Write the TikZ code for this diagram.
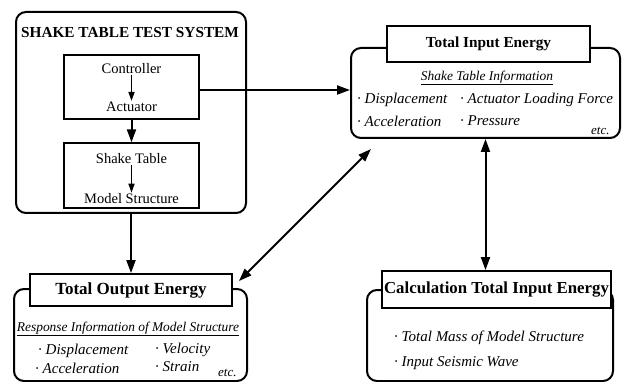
\documentclass[tikz,border=0pt]{standalone}
\usepackage{fontspec}
\setmainfont{Liberation Serif}
\usetikzlibrary{arrows.meta}
\begin{document}
\begin{tikzpicture}[x=1pt,y=-1pt,
  outer/.style={draw, line width=2pt, rounded corners=10pt, inner sep=0pt},
  tbox/.style={draw, line width=1.8pt, fill=white, inner sep=0pt},
  ibox/.style={draw, line width=1.3pt, inner sep=0pt},
  arr/.style={line width=2pt, -{Triangle[length=13pt,width=9pt]}},
  darr/.style={line width=2pt, {Triangle[length=13pt,width=9pt]}-{Triangle[length=13pt,width=9pt]}},
  sarr/.style={line width=1.5pt, -{Triangle[length=9pt,width=6pt]}},
  lbl/.style={font=\fontsize{14.5}{17}\selectfont, inner sep=1pt},
  itl/.style={font=\fontsize{15}{17}\selectfont\itshape, anchor=west, inner sep=0pt},
  hdr/.style={font=\fontsize{13.4}{16}\selectfont\itshape, inner sep=0pt},
  ttl/.style={font=\fontsize{15.3}{17}\selectfont\bfseries, inner sep=0pt}]
\useasboundingbox (0,0) rectangle (624,382);
\clip (0,0) rectangle (624,382);
\fill[white] (0,0) rectangle (624,382);

% shake table test system
\node[outer, minimum width=230pt, minimum height=201pt] (sys) at (131,112.5) {};
\node[ttl] (systitle) at (130,33) {SHAKE TABLE TEST SYSTEM};
\node[ibox, minimum width=135pt, minimum height=64pt] (cabox) at (131.5,87) {};
\node[ibox, minimum width=135pt, minimum height=65pt] (smbox) at (131.5,175.5) {};
\node[lbl] (ctrl) at (131.5,69) {Controller};
\node[lbl] (act) at (131.5,107) {Actuator};
\node[lbl] (shk) at (131.5,159) {Shake Table};
\node[lbl] (mdl) at (131.5,199) {Model Structure};
\draw[sarr] (ctrl.south) -- (act.north);
\draw[sarr] (shk.south) -- (mdl.north);
\draw[arr] (cabox.south) -- (smbox.north);

% total input energy
\node[outer, minimum width=269pt, minimum height=90pt] (tin) at (485.5,93) {};
\node[tbox, minimum width=203pt, minimum height=36pt] (tint) at (488.5,44) {};
\node[ttl] (tintl) at (488.5,44) {Total Input Energy};
\node[hdr] (tinh) at (487,78) {\underline{Shake Table Information}};
\node[itl] (ti1) at (357,100) {· Displacement};
\node[itl] (ti2) at (460,100) {· Actuator Loading Force};
\node[itl] (ti3) at (357,121) {· Acceleration};
\node[itl] (ti4) at (460,121) {· Pressure};
\node[itl, font=\fontsize{13}{15}\selectfont\itshape] (tietc) at (591,131) {etc.};

% total output energy
\node[outer, minimum width=233pt, minimum height=92pt] (tout) at (130.5,335) {};
\node[tbox, minimum width=202pt, minimum height=32pt] (toutt) at (131,290) {};
\node[ttl, font=\fontsize{17}{19}\selectfont\bfseries] (touttl) at (131,290) {Total Output Energy};
\node[hdr] (touth) at (128,329) {\underline{Response Information of Model Structure}};
\node[itl] (to1) at (38,351) {· Displacement};
\node[itl] (to2) at (155,350) {· Velocity};
\node[itl] (to3) at (35,368) {· Acceleration};
\node[itl] (to4) at (155,367) {· Strain};
\node[itl, font=\fontsize{13}{15}\selectfont\itshape] (toetc) at (218,373) {etc.};

% calculation total input energy
\node[outer, minimum width=246pt, minimum height=91pt] (calc) at (490,335.5) {};
\node[tbox, minimum width=229pt, minimum height=37pt] (calt) at (496.5,289.5) {};
\node[ttl, font=\fontsize{16.8}{19}\selectfont\bfseries] (caltl) at (496.5,289.5) {Calculation Total Input Energy};
\node[itl] (c1) at (394,338) {· Total Mass of Model Structure};
\node[itl] (c2) at (394,363) {· Input Seismic Wave};

% connectors
\draw[arr] ([yshift=-3pt]cabox.east) coordinate (a1) -- (a1 -| tin.west);
\draw[darr] (tin.south) -- (tin.south |- calt.north);
\draw[arr] (sys.south) -- (toutt.north);
\coordinate (d1) at ([xshift=21pt,yshift=-10pt]tin.south west);
\coordinate (d2) at ([xshift=6pt,yshift=-8pt]toutt.north east);
\draw[darr] (d1) -- (d2);
\end{tikzpicture}
\end{document}
